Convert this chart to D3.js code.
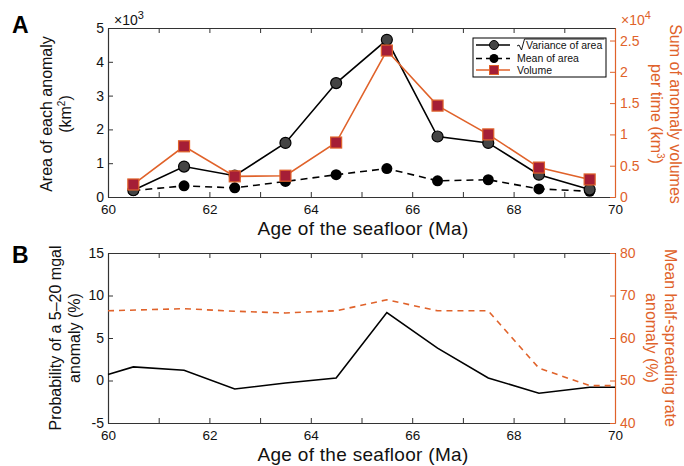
<!DOCTYPE html>
<html>
<head>
<meta charset="utf-8">
<script src="https://cdn.jsdelivr.net/npm/d3@7"></script>
<style>
  body { margin: 0; background: #fff; }
  svg { font-family: "Liberation Sans", Arial, sans-serif; }
</style>
</head>
<body>
<div id="chart"></div>
<script>
// DATA
var ageA = [60.5, 61.5, 62.5, 63.5, 64.5, 65.5, 66.5, 67.5, 68.5, 69.5];
var sqrtVariance = [200, 900, 630, 1600, 3370, 4650, 1790, 1600, 660, 220];
var meanArea = [190, 330, 270, 460, 660, 840, 480, 510, 240, 170];
var volume = [2000, 8100, 3300, 3400, 8700, 23400, 14600, 10000, 4700, 2800];
var legendLabels = ["Variance of area", "Mean of area", "Volume"];

var ageB = [60, 60.5, 61.5, 62.5, 63.5, 64.5, 65.5, 66.5, 67.5, 68.5, 69.5, 70];
var probability = [0.7, 1.6, 1.2, -1.0, -0.3, 0.3, 8.0, 3.8, 0.3, -1.5, -0.8, -0.8];
var ageRate = [60, 61.5, 62.5, 63.5, 64.5, 65.5, 66.5, 67.5, 68.5, 69.5, 70];
var halfSpreading = [66.4, 66.9, 66.3, 65.9, 66.4, 69.0, 66.4, 66.4, 52.9, 48.8, 48.8];

var xTicks = [60, 61, 62, 63, 64, 65, 66, 67, 68, 69, 70];
var xTickLabels = [60, 62, 64, 66, 68, 70];

var orange = "#e0622a";
var squareFill = "#a51e36";
var axisGray = "#333";

var svg = d3.select("#chart").append("svg")
    .attr("width", 684)
    .attr("height", 466);

var x = d3.scaleLinear().domain([60, 70]).range([108, 615]);

// PANEL A scales
var yA = d3.scaleLinear().domain([0, 5000]).range([197, 28]);
var yA2 = d3.scaleLinear().domain([0, 27000]).range([197, 28]);
// PANEL B scales
var yB = d3.scaleLinear().domain([-5, 15]).range([423, 253]);
var yB2 = d3.scaleLinear().domain([40, 80]).range([423, 253]);

var ticksA = [0, 1000, 2000, 3000, 4000, 5000];

function drawFrame(yScale, yScale2, leftTicks, leftFmt, rightTicks, rightFmt) {
    var top = yScale.range()[1], bottom = yScale.range()[0];
    var g = svg.append("g");

    // bottom axis
    var bx = g.append("g").attr("transform", "translate(0," + bottom + ")")
        .call(d3.axisBottom(x).tickValues(xTicks).tickSizeInner(-5).tickSizeOuter(0)
            .tickFormat(function(d) { return xTickLabels.indexOf(d) >= 0 ? d : ""; }));
    bx.selectAll("text").attr("y", 17).attr("dy", 0).style("font-size", "13.5px").attr("fill", "#111");

    // top axis
    g.append("g").attr("transform", "translate(0," + top + ")")
        .call(d3.axisTop(x).tickValues(xTicks).tickSizeInner(-5).tickSizeOuter(0).tickFormat(""));

    // left axis
    var ly = g.append("g").attr("transform", "translate(" + x.range()[0] + ",0)")
        .call(d3.axisLeft(yScale).tickValues(leftTicks).tickSizeInner(-5).tickSizeOuter(0)
            .tickFormat(leftFmt));
    ly.selectAll("text").attr("x", -4).style("font-size", "14px").attr("fill", "#111");

    // right axis
    var ry = g.append("g").attr("transform", "translate(" + x.range()[1] + ",0)")
        .call(d3.axisRight(yScale2).tickValues(rightTicks).tickSizeInner(-5).tickSizeOuter(0)
            .tickFormat(rightFmt));
    ry.selectAll("text").attr("x", 5).style("font-size", "14px").attr("fill", orange);
    ry.selectAll("line").attr("stroke", orange);
    ry.select(".domain").attr("stroke", orange).attr("stroke-width", 1.2);

    g.selectAll(".domain").filter(function() { return this.parentNode !== ry.node(); })
        .attr("stroke", axisGray).attr("stroke-width", 1.2);
    g.selectAll(".tick line").filter(function() { return this.parentNode.parentNode !== ry.node(); })
        .attr("stroke", axisGray);
    return g;
}

drawFrame(yA, yA2, ticksA, function(d) { return d / 1000; },
    [0, 5000, 10000, 15000, 20000, 25000], function(d) { return d / 10000; });
drawFrame(yB, yB2, [-5, 0, 5, 10, 15], function(d) { return d; },
    [40, 50, 60, 70, 80], function(d) { return d; });

// exponent labels
var e1 = svg.append("text").attr("x", 114).attr("y", 25).style("font-size", "14px").attr("fill", "#111");
e1.append("tspan").text("\u00d710");
e1.append("tspan").text("3").attr("dy", -6).style("font-size", "11px");
var e2 = svg.append("text").attr("x", 621).attr("y", 25).style("font-size", "14px").attr("fill", orange);
e2.append("tspan").text("\u00d710");
e2.append("tspan").text("4").attr("dy", -6).style("font-size", "11px");

// PANEL A lines
var lineVar = d3.line().x(function(d, i) { return x(ageA[i]); }).y(function(d) { return yA(d); });
var lineVol = d3.line().x(function(d, i) { return x(ageA[i]); }).y(function(d) { return yA2(d); });

svg.append("path").datum(meanArea).attr("d", lineVar)
    .attr("fill", "none").attr("stroke", "#000").attr("stroke-width", 1.6).attr("stroke-dasharray", "7,5");
svg.selectAll(".meanPt").data(meanArea).enter().append("circle")
    .attr("cx", function(d, i) { return x(ageA[i]); }).attr("cy", function(d) { return yA(d); })
    .attr("r", 5.5).attr("fill", "#000");

svg.append("path").datum(sqrtVariance).attr("d", lineVar)
    .attr("fill", "none").attr("stroke", "#000").attr("stroke-width", 1.6);
svg.selectAll(".varPt").data(sqrtVariance).enter().append("circle")
    .attr("cx", function(d, i) { return x(ageA[i]); }).attr("cy", function(d) { return yA(d); })
    .attr("r", 5.5).attr("fill", "#444").attr("stroke", "#000").attr("stroke-width", 1.2);

svg.append("path").datum(volume).attr("d", lineVol)
    .attr("fill", "none").attr("stroke", orange).attr("stroke-width", 1.6);
svg.selectAll(".volPt").data(volume).enter().append("rect")
    .attr("x", function(d, i) { return x(ageA[i]) - 5.5; }).attr("y", function(d) { return yA2(d) - 5.5; })
    .attr("width", 11).attr("height", 11)
    .attr("fill", squareFill).attr("stroke", orange).attr("stroke-width", 1.2);

// legend
var lg = svg.append("g").attr("transform", "translate(473,38)");
lg.append("rect").attr("width", 133).attr("height", 39)
    .attr("fill", "#fff").attr("stroke", "#000").attr("stroke-width", 1);
var rows = [7, 20.5, 32];
lg.append("line").attr("x1", 3).attr("x2", 37).attr("y1", rows[0]).attr("y2", rows[0]).attr("stroke", "#000").attr("stroke-width", 1.4);
lg.append("circle").attr("cx", 21).attr("cy", rows[0]).attr("r", 4.5).attr("fill", "#444").attr("stroke", "#000");
lg.append("line").attr("x1", 3).attr("x2", 37).attr("y1", rows[1]).attr("y2", rows[1]).attr("stroke", "#000").attr("stroke-width", 1.4).attr("stroke-dasharray", "6,4");
lg.append("circle").attr("cx", 21).attr("cy", rows[1]).attr("r", 4.5).attr("fill", "#000");
lg.append("line").attr("x1", 3).attr("x2", 37).attr("y1", rows[2]).attr("y2", rows[2]).attr("stroke", orange).attr("stroke-width", 1.4);
lg.append("rect").attr("x", 16.5).attr("y", rows[2] - 4.5).attr("width", 9).attr("height", 9)
    .attr("fill", squareFill).attr("stroke", orange);
// sqrt sign
lg.append("path").attr("d", "M44," + (rows[0] + 1) + " l2,-1 l2.5,5 l3,-11 h80")
    .attr("fill", "none").attr("stroke", "#000").attr("stroke-width", 0.9);
legendLabels.forEach(function(t, i) {
    lg.append("text").attr("x", i === 0 ? 53 : 44).attr("y", rows[i]).attr("dy", "0.35em")
        .style("font-size", "10.5px").attr("fill", "#111").text(t);
});

// PANEL B lines
svg.append("path").datum(probability)
    .attr("d", d3.line().x(function(d, i) { return x(ageB[i]); }).y(function(d) { return yB(d); }))
    .attr("fill", "none").attr("stroke", "#000").attr("stroke-width", 1.6);
svg.append("path").datum(halfSpreading)
    .attr("d", d3.line()
        .x(function(d, i) { return x(ageRate[i]); }).y(function(d) { return yB2(d); }))
    .attr("fill", "none").attr("stroke", orange).attr("stroke-width", 1.6).attr("stroke-dasharray", "6,5");

// labels
function vlabel(lines, cx, cy, rot, color, size) {
    var t = svg.append("text").attr("transform", "translate(" + cx + "," + cy + ") rotate(" + rot + ")")
        .attr("text-anchor", "middle").style("font-size", size + "px").attr("fill", color);
    lines.forEach(function(l, i) {
        var ts = t.append("tspan").attr("x", 0).attr("dy", i === 0 ? 0 : "1.2em");
        if (typeof l === "string") ts.text(l);
        else { ts.text(l[0]); ts.append("tspan").text(l[1]).attr("dy", -6).style("font-size", "10px");
               ts.append("tspan").text(l[2]).attr("dy", 6); }
    });
}
vlabel(["Area of each anomaly", ["(km", "2", ")"]], 52, 114, -90, "#111", 16);
vlabel(["Sum of anomaly volumes", ["per time (km", "3", ")"]], 670, 114, 90, orange, 16);
vlabel(["Probability of a 5\u201320 mgal", "anomaly (%)"], 61, 338, -90, "#111", 16);
vlabel(["Mean half-spreading rate", "anomaly (%)"], 665, 338, 90, orange, 16);

svg.append("text").attr("x", 363).attr("y", 235).attr("text-anchor", "middle")
    .style("font-size", "19px").style("letter-spacing", "0.3px").attr("fill", "#111").text("Age of the seafloor (Ma)");
svg.append("text").attr("x", 363).attr("y", 461).attr("text-anchor", "middle")
    .style("font-size", "19px").style("letter-spacing", "0.3px").attr("fill", "#111").text("Age of the seafloor (Ma)");

svg.append("text").attr("x", 12).attr("y", 33).style("font-size", "23px").style("font-weight", "bold").text("A");
svg.append("text").attr("x", 12).attr("y", 263).style("font-size", "23px").style("font-weight", "bold").text("B");
</script>
</body>
</html>
